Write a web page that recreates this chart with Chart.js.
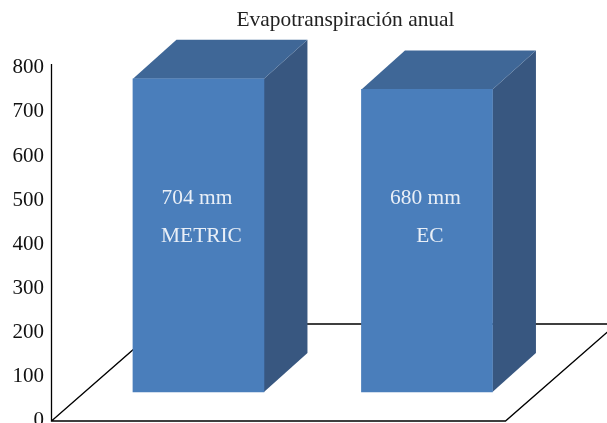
<!DOCTYPE html>
<html>
<head>
<meta charset="utf-8">
<title>Evapotranspiración anual</title>
<script src="https://cdn.jsdelivr.net/npm/chart.js@4"></script>
<style>
  html, body { margin: 0; background: #fff; overflow: hidden; }
  canvas { display: block; }
</style>
</head>
<body>
<canvas id="etChart" width="607" height="423"></canvas>
<script>
const chartTitle = 'Evapotranspiración anual';
const categories = ['METRIC', 'EC'];
const etValues = [704, 680];
const valueUnit = 'mm';

const FONT = '"Liberation Serif", "Times New Roman", serif';
const FRONT = '#4a7ebb';
const TOP = '#3f6797';
const SIDE = '#385780';

// the bars stand further back on the floor than the axis plane
const BAR_DEPTH_X = 43.5, BAR_DEPTH_Y = 39;
const FLOOR_DEPTH_X = 111, FLOOR_DEPTH_Y = 97, FLOOR_WIDTH = 454;

function poly(ctx, points, fill) {
    ctx.beginPath();
    points.forEach((p, i) => i ? ctx.lineTo(p[0], p[1]) : ctx.moveTo(p[0], p[1]));
    ctx.closePath();
    ctx.fillStyle = fill;
    ctx.fill();
}

const box3d = {
    id: 'box3d',
    afterLayout(chart) {
        // title sits over the plot, not over the whole canvas
        chart.titleBlock.left += 42;
        chart.titleBlock.right += 42;
    },
    beforeDatasetsDraw(chart) {
        const { ctx, chartArea: a } = chart;
        const x0 = a.left - 0.5, y0 = a.bottom + 1;

        ctx.save();
        ctx.strokeStyle = '#000';
        ctx.lineWidth = 1.3;
        ctx.beginPath();
        // axis line
        ctx.moveTo(x0, a.top - 4);
        ctx.lineTo(x0, y0);
        // floor
        ctx.lineTo(x0 + FLOOR_WIDTH, y0);
        ctx.lineTo(x0 + FLOOR_WIDTH + FLOOR_DEPTH_X, y0 - FLOOR_DEPTH_Y);
        ctx.lineTo(x0 + FLOOR_DEPTH_X, y0 - FLOOR_DEPTH_Y);
        ctx.lineTo(x0, y0);
        ctx.stroke();

        // side and top faces of each bar
        chart.getDatasetMeta(0).data.forEach(bar => {
            const l = bar.x - bar.width / 2, r = bar.x + bar.width / 2;
            const dx = BAR_DEPTH_X, dy = BAR_DEPTH_Y;
            poly(ctx, [[r, bar.y], [r + dx, bar.y - dy], [r + dx, bar.base - dy], [r, bar.base]], SIDE);
            poly(ctx, [[l, bar.y], [l + dx, bar.y - dy], [r + dx, bar.y - dy], [r, bar.y]], TOP);
        });
        ctx.restore();
    },
    afterDatasetsDraw(chart) {
        const { ctx } = chart;
        ctx.save();
        ctx.fillStyle = '#e9eff7';
        ctx.font = '21.4px ' + FONT;
        ctx.textAlign = 'center';
        ctx.textBaseline = 'middle';
        chart.getDatasetMeta(0).data.forEach((bar, i) => {
            ctx.fillText(etValues[i] + ' ' + valueUnit, bar.x - 1.5, 198.5);
            ctx.fillText(categories[i], bar.x + 3, 236.5);
        });
        ctx.restore();
    }
};

new Chart(document.getElementById('etChart'), {
    type: 'bar',
    data: {
        datasets: [{
            label: chartTitle,
            data: etValues.map((v, i) => ({ x: i + 1, y: v })),
            backgroundColor: FRONT,
            borderWidth: 0,
            barThickness: 131,
            yAxisID: 'bars'
        }]
    },
    options: {
        responsive: false,
        animation: false,
        layout: { padding: { bottom: 3 } },
        plugins: {
            legend: { display: false },
            tooltip: { enabled: false },
            title: {
                display: true,
                text: chartTitle,
                color: '#222',
                font: { family: FONT, size: 21.4, weight: 'normal', lineHeight: 1.2 },
                padding: { top: 8, bottom: 34.3 }
            }
        },
        scales: {
            x: {
                type: 'linear',
                display: false,
                offset: false,
                min: 0.359,
                max: 2.788
            },
            y: {
                min: 0,
                max: 800,
                afterFit(scale) {
                    scale.width = 52;
                    scale.paddingTop = 0;
                    scale.paddingBottom = 0;
                },
                border: { display: false },
                grid: { display: false, drawTicks: false },
                ticks: {
                    stepSize: 100,
                    padding: 8,
                    color: '#111',
                    font: { family: FONT, size: 21 }
                }
            },
            // same units, lifted and scaled for the plane the bars stand on
            bars: {
                display: false,
                min: -62.9,
                max: 728.1
            }
        }
    },
    plugins: [box3d]
});
</script>
</body>
</html>
